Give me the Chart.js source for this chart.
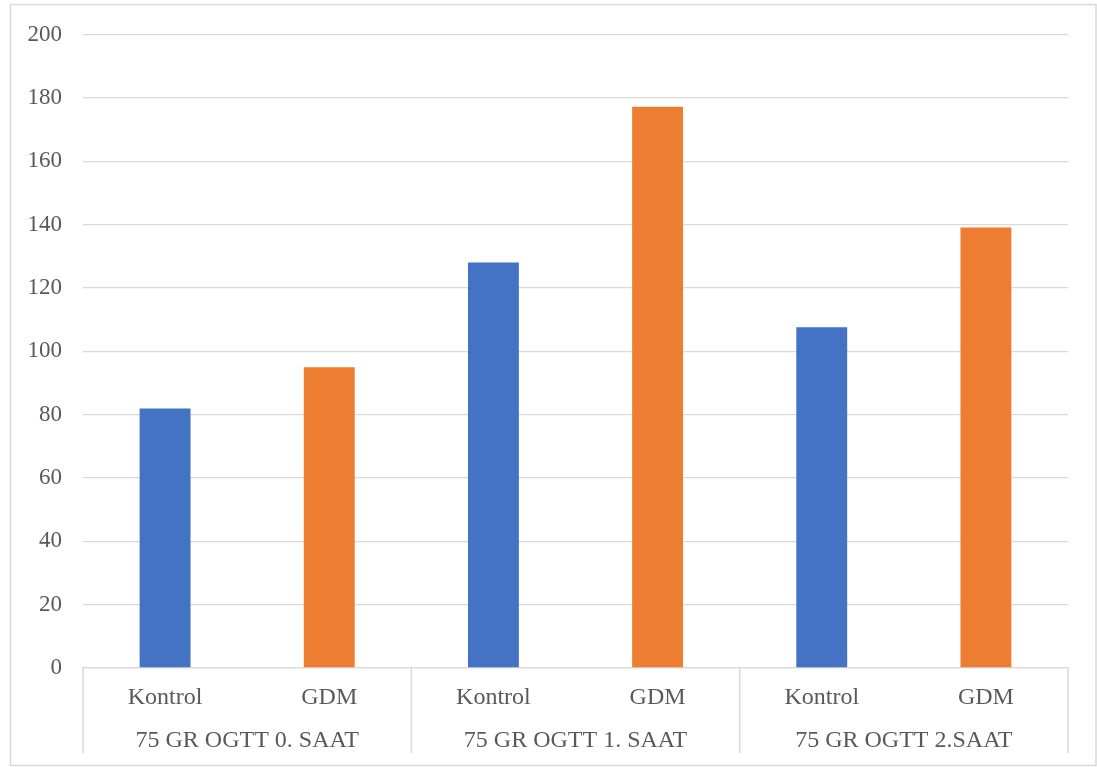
<!DOCTYPE html>
<html>
<head>
<meta charset="utf-8">
<script src="https://cdn.jsdelivr.net/npm/chart.js@4.4.1/dist/chart.umd.min.js"></script>
<style>
  html, body { margin: 0; padding: 0; background: #ffffff; }
  #wrap { position: relative; width: 1097px; height: 767px; }
</style>
</head>
<body>
<div id="wrap"><canvas id="chart"></canvas></div>
<script>
// OGTT glucose means by group
const groupLabels = ['75 GR OGTT 0. SAAT', '75 GR OGTT 1. SAAT', '75 GR OGTT 2.SAAT'];
const subLabels = ['Kontrol', 'GDM', 'Kontrol', 'GDM', 'Kontrol', 'GDM'];
const values = [82, 95, 128.1, 177.3, 107.6, 139.1];
const barColors = ['#4472C4', '#ED7D31', '#4472C4', '#ED7D31', '#4472C4', '#ED7D31'];
const yMin = 0;
const yMax = 200;
const yStep = 20;

const textColor = '#595959';
const lineColor = '#d9d9d9';
const fontFamily = '"Liberation Serif", "Times New Roman", serif';

// outer frame around the whole chart
const framePlugin = {
  id: 'frame',
  beforeDraw(chart) {
    const ctx = chart.ctx;
    ctx.save();
    ctx.strokeStyle = lineColor;
    ctx.lineWidth = 1.5;
    ctx.strokeRect(10.5, 4.5, 1085.5, 761);
    ctx.restore();
  }
};

// vertical separators between the category groups, below the axis
const groupSeparators = {
  id: 'groupSeparators',
  afterDraw(chart) {
    const x = chart.scales.x;
    const x2 = chart.scales.x2;
    const ctx = chart.ctx;
    const top = chart.chartArea.bottom;
    const bottom = x2.bottom;
    const per = subLabels.length / groupLabels.length;
    const xs = [x.left];
    for (let g = 1; g < groupLabels.length; g++) {
      const i = g * per;
      xs.push((x.getPixelForValue(i - 1) + x.getPixelForValue(i)) / 2);
    }
    xs.push(x.right);
    ctx.save();
    ctx.strokeStyle = lineColor;
    ctx.lineWidth = 1.5;
    xs.forEach(px => {
      ctx.beginPath();
      ctx.moveTo(px, top);
      ctx.lineTo(px, bottom);
      ctx.stroke();
    });
    ctx.restore();
  }
};

new Chart(document.getElementById('chart'), {
  type: 'bar',
  data: {
    labels: subLabels,
    datasets: [{
      data: values,
      backgroundColor: barColors,
      borderWidth: 0,
      barPercentage: 1,
      categoryPercentage: 0.31
    }]
  },
  options: {
    responsive: true,
    maintainAspectRatio: false,
    animation: false,
    layout: { padding: { left: 0, right: 29, top: 33, bottom: 14 } },
    plugins: {
      legend: { display: false },
      tooltip: { enabled: false }
    },
    scales: {
      y: {
        min: yMin,
        max: yMax,
        afterFit(scale) { scale.width = 83; },
        ticks: {
          stepSize: yStep,
          padding: 21,
          color: textColor,
          font: { family: fontFamily, size: 23 }
        },
        grid: { color: lineColor, lineWidth: 1.3, drawTicks: false },
        border: { display: false }
      },
      x: {
        position: 'bottom',
        afterFit(scale) { scale.height = 42; },
        ticks: {
          padding: 15,
          color: textColor,
          maxRotation: 0,
          autoSkip: false,
          font: { family: fontFamily, size: 24 }
        },
        grid: { display: false, drawTicks: false },
        border: { display: true, color: lineColor, width: 1.3 }
      },
      x2: {
        type: 'category',
        position: 'bottom',
        labels: groupLabels,
        offset: true,
        afterFit(scale) { scale.height = 43; },
        ticks: {
          padding: 16,
          color: textColor,
          maxRotation: 0,
          autoSkip: false,
          font: { family: fontFamily, size: 24 }
        },
        grid: { display: false, drawTicks: false },
        border: { display: false }
      }
    }
  },
  plugins: [framePlugin, groupSeparators]
});
</script>
</body>
</html>
